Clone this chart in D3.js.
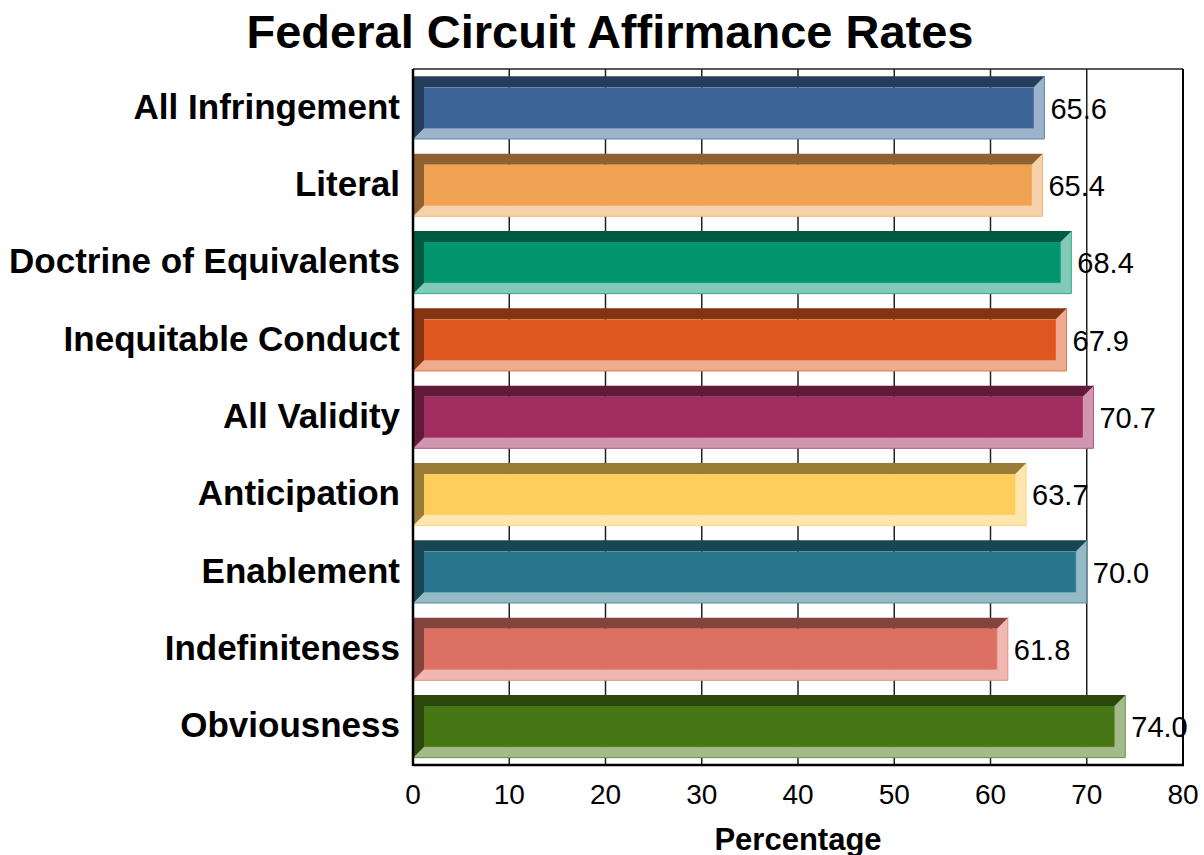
<!DOCTYPE html>
<html>
<head>
<meta charset="utf-8">
<script src="https://cdn.jsdelivr.net/npm/d3@7"></script>
<style>
body { margin: 0; background: #fff; }
text { font-family: "Liberation Sans", Arial, sans-serif; }
</style>
</head>
<body>
<script>
// categories, top to bottom
var categories = ["All Infringement", "Literal", "Doctrine of Equivalents", "Inequitable Conduct",
	"All Validity", "Anticipation", "Enablement", "Indefiniteness", "Obviousness"];
// affirmance rate, percent
var rates = [65.6, 65.4, 68.4, 67.9, 70.7, 63.7, 70.0, 61.8, 74.0];
// face colour of each bar
var barColors = ["#3a6596", "#efa252", "#02956e", "#de5620", "#a12c5f", "#ffcd5e", "#28758c", "#dc7063", "#477615"];
var xTicks = [0, 10, 20, 30, 40, 50, 60, 70, 80];

(function(){

var width = 1204, height = 855;
var plotLeft = 413, plotRight = 1183, plotTop = 69, plotBottom = 765;
var bevel = 11;

var svg = d3.select("body").append("svg")
	.attr("width", width)
	.attr("height", height);

var x = d3.scaleLinear().domain([0, 80]).range([plotLeft, plotRight]);
var y = d3.scaleBand().domain(categories).range([plotTop, plotBottom])
	.paddingInner(0.19).paddingOuter(0.095);

//title
svg.append("text")
	.attr("x", 610)
	.attr("y", 48)
	.attr("text-anchor", "middle")
	.style("font-size", "47px")
	.style("font-weight", "bold")
	.text("Federal Circuit Affirmance Rates");

//gridlines
svg.selectAll(".grid")
	.data(xTicks.slice(1, -1))
	.enter()
	.append("line")
	.attr("x1", function(d){ return x(d); })
	.attr("x2", function(d){ return x(d); })
	.attr("y1", plotTop)
	.attr("y2", plotBottom)
	.attr("stroke", "#222")
	.attr("stroke-width", 1.5);

//bars with bevelled edges
var bars = svg.selectAll(".bar")
	.data(rates)
	.enter()
	.append("g")
	.attr("class", "bar");

bars.each(function(d, i){
	var g = d3.select(this);
	var c = barColors[i];
	var dark = d3.interpolateRgb(c, "#000")(0.4);
	var light = d3.interpolateRgb(c, "#fff")(0.5);
	var edge = d3.interpolateRgb(c, "#fff")(0.2);
	var x0 = x(0), x1 = x(d), y0 = y(categories[i]), y1 = y0 + y.bandwidth();
	var b = bevel;

	g.append("polygon")
		.attr("points", [[x1, y0], [x1, y1], [x0, y1], [x0 + b, y1 - b], [x1 - b, y1 - b], [x1 - b, y0 + b]].join(" "))
		.attr("fill", light)
		.attr("stroke", edge)
		.attr("stroke-width", 1);
	g.append("polygon")
		.attr("points", [[x0, y0], [x1, y0], [x1 - b, y0 + b], [x0 + b, y0 + b], [x0 + b, y1 - b], [x0, y1]].join(" "))
		.attr("fill", dark);
	g.append("rect")
		.attr("x", x0 + b)
		.attr("y", y0 + b)
		.attr("width", x1 - x0 - 2 * b)
		.attr("height", y1 - y0 - 2 * b)
		.attr("fill", c);
});

//frame
svg.append("line").attr("x1", plotLeft).attr("x2", plotRight).attr("y1", plotTop).attr("y2", plotTop)
	.attr("stroke", "#222").attr("stroke-width", 1.5);
svg.append("line").attr("x1", plotRight).attr("x2", plotRight).attr("y1", plotTop).attr("y2", plotBottom)
	.attr("stroke", "#000").attr("stroke-width", 2);
svg.append("line").attr("x1", plotLeft).attr("x2", plotLeft).attr("y1", plotTop).attr("y2", plotBottom + 1)
	.attr("stroke", "#000").attr("stroke-width", 2.5);
svg.append("line").attr("x1", plotLeft).attr("x2", plotRight + 1).attr("y1", plotBottom).attr("y2", plotBottom)
	.attr("stroke", "#000").attr("stroke-width", 2.5);

//value labels
svg.selectAll(".val")
	.data(rates)
	.enter()
	.append("text")
	.attr("x", function(d){ return x(d) + 6; })
	.attr("y", function(d, i){ return y(categories[i]) + y.bandwidth() / 2 + 11; })
	.style("font-size", "29px")
	.text(function(d){ return d.toFixed(1); });

//category labels
svg.selectAll(".cat")
	.data(categories)
	.enter()
	.append("text")
	.attr("x", 400)
	.attr("y", function(d){ return y(d) + y.bandwidth() / 2 + 11; })
	.attr("text-anchor", "end")
	.style("font-size", "35px")
	.style("font-weight", "bold")
	.text(function(d){ return d; });

//x tick labels
svg.selectAll(".tick")
	.data(xTicks)
	.enter()
	.append("text")
	.attr("x", function(d){ return x(d); })
	.attr("y", 804)
	.attr("text-anchor", "middle")
	.style("font-size", "28px")
	.text(function(d){ return d; });

//axis title
svg.append("text")
	.attr("x", (plotLeft + plotRight) / 2)
	.attr("y", 850)
	.attr("text-anchor", "middle")
	.style("font-size", "31px")
	.style("font-weight", "bold")
	.text("Percentage");

})();
</script>
</body>
</html>
